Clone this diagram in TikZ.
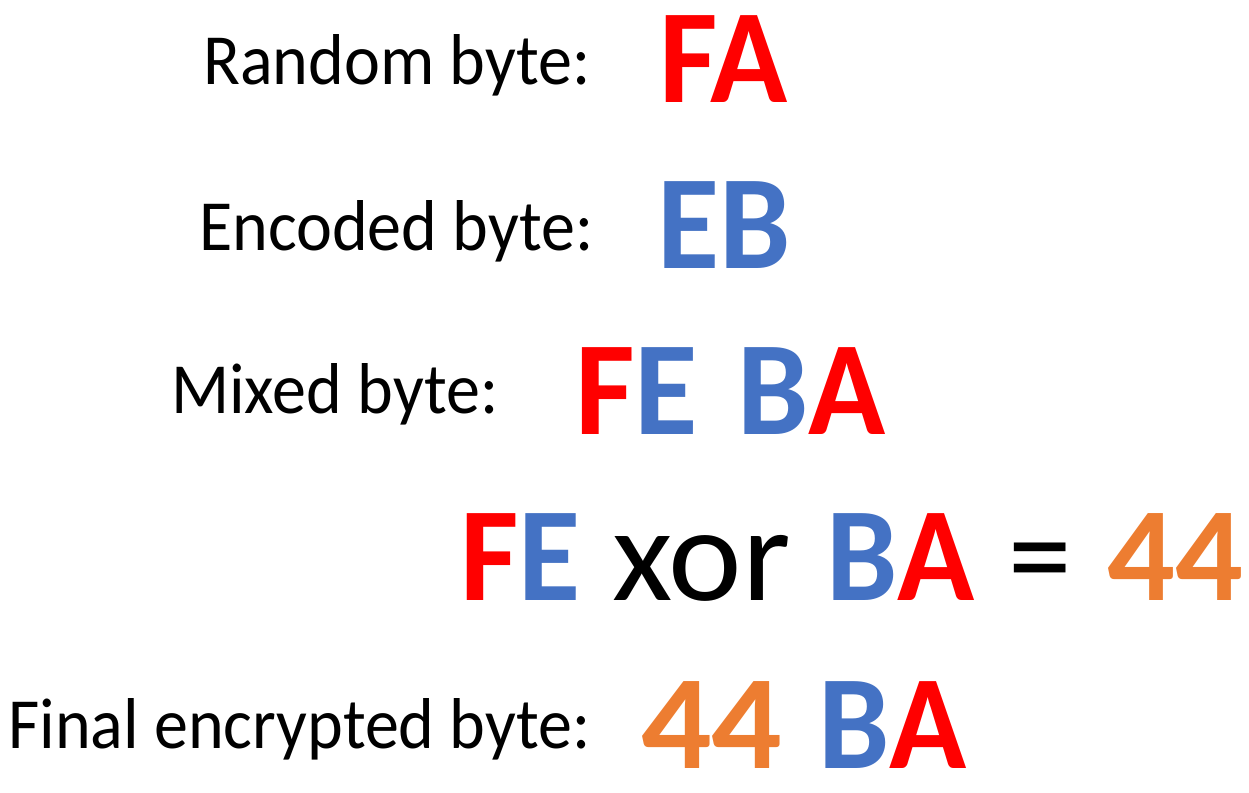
\documentclass[tikz,border=0pt]{standalone}
\usepackage{graphicx}
\usepackage{fontspec}
\setmainfont{Carlito}
\definecolor{keyred}{HTML}{FF0000}
\definecolor{keyblue}{HTML}{4472C4}
\definecolor{keyorange}{HTML}{ED7D31}
% horizontally narrowed text
\newcommand{\narrowlbl}[1]{\scalebox{0.945}[1]{#1}}
\newcommand{\narrowval}[1]{\scalebox{0.95}[1]{#1}}
\newcommand{\widetext}[2]{\scalebox{#1}[1]{#2}}
\begin{document}
\begin{tikzpicture}[x=1pt,y=-1pt,
  lbl/.style={anchor=base west, inner sep=0pt, font=\fontsize{72}{80}\selectfont},
  val/.style={anchor=base west, inner sep=0pt, font=\fontsize{134}{140}\selectfont\bfseries},
  op/.style={anchor=base west, inner sep=0pt, font=\fontsize{134}{140}\selectfont}]
\useasboundingbox (0,0) rectangle (1249,792);
% step labels
\node[lbl] (rlab) at (203,84) {\narrowlbl{Random byte:}};
\node[lbl] (elab) at (199,250) {\narrowlbl{Encoded byte:}};
\node[lbl] (mlab) at (171,413) {\narrowlbl{Mixed byte:}};
\node[lbl] (flab) at (8,748) {\narrowlbl{Final encrypted byte:}};
% random and encoded bytes
\node[val, text=keyred] (rval) at (659,102) {\narrowval{FA}};
\node[val, text=keyblue] (eval) at (657,268) {\narrowval{EB}};
% mixed byte
\node[val] (mhi) at (575,434) {\widetext{0.97}{\textcolor{keyred}{F}\textcolor{keyblue}{E}}};
\node[val] (mlo) at (737,434) {\narrowval{\textcolor{keyblue}{B}\textcolor{keyred}{A}}};
% xor of the two halves
\node[val] (xhi) at (460,600) {\narrowval{\textcolor{keyred}{F}\textcolor{keyblue}{E}}};
\node[op] (xop) at (612,600) {\widetext{1.04}{xor}};
\node[val] (xlo) at (826,600) {\narrowval{\textcolor{keyblue}{B}\textcolor{keyred}{A}}};
\node[op] (xeq) at (1008,600) {\narrowval{=}};
\node[val, text=keyorange] (xres) at (1107,600) {\widetext{1.0}{44}};
% final encrypted byte
\node[val, text=keyorange] (fhi) at (641,768) {\widetext{1.04}{44}};
\node[val] (flo) at (818,768) {\narrowval{\textcolor{keyblue}{B}\textcolor{keyred}{A}}};
\end{tikzpicture}
\end{document}
